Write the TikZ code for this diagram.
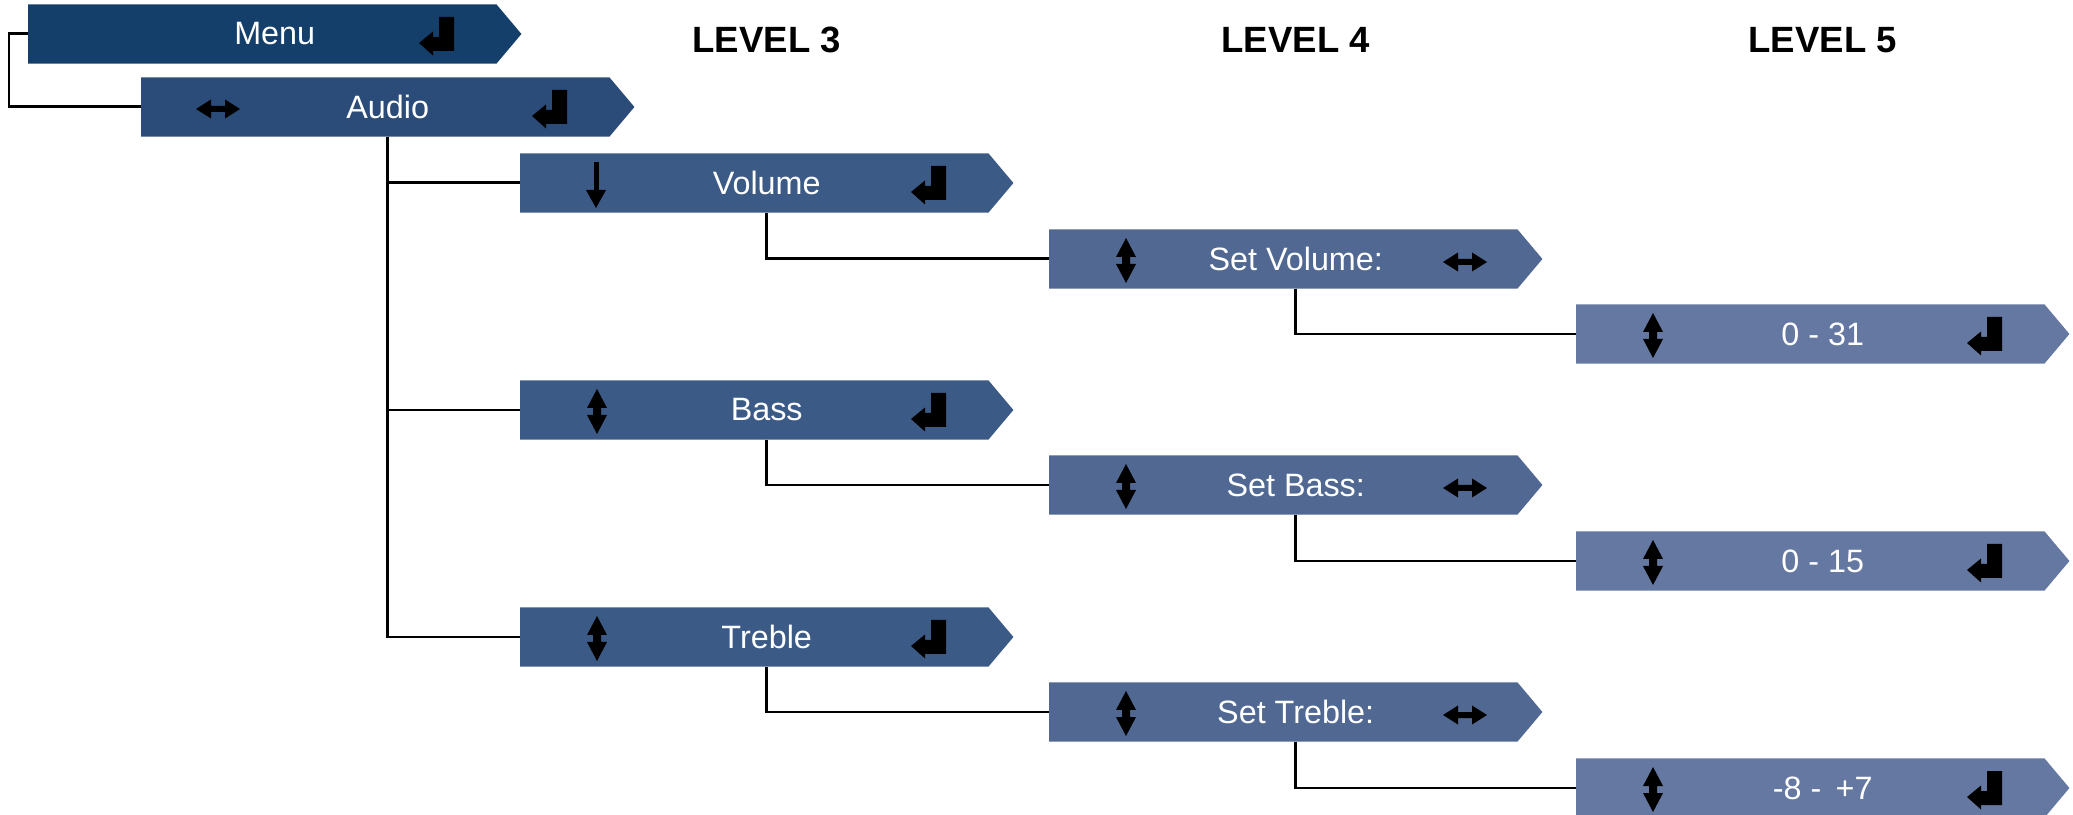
\documentclass[tikz,border=0pt]{standalone}
\usepackage{fontspec}
\setmainfont{Liberation Sans}
\usepackage{tikz}
\usetikzlibrary{positioning,calc,backgrounds}

\definecolor{lvA}{RGB}{20,63,107}
\definecolor{lvB}{RGB}{43,75,120}
\definecolor{lvC}{RGB}{60,90,134}
\definecolor{lvD}{RGB}{80,104,146}
\definecolor{lvE}{RGB}{100,120,161}

\tikzset{
    enter/.pic={\fill (0,-0.09) -- (0.14,0.025) -- (0.14,-0.03) -- (0.20,-0.03) -- (0.20,0.17) -- (0.35,0.17)
        -- (0.35,-0.17) -- (0.14,-0.17) -- (0.14,-0.215) -- cycle;},
    updown/.pic={\fill (0,0.225) -- (0.10,0.035) -- (0.04,0.035) -- (0.04,-0.035) -- (0.10,-0.035) -- (0,-0.225)
        -- (-0.10,-0.035) -- (-0.04,-0.035) -- (-0.04,0.035) -- (-0.10,0.035) -- cycle;},
    leftright/.pic={\fill (-0.22,0) -- (-0.07,0.095) -- (-0.07,0.03) -- (0.07,0.03) -- (0.07,0.095) -- (0.22,0)
        -- (0.07,-0.095) -- (0.07,-0.03) -- (-0.07,-0.03) -- (-0.07,-0.095) -- cycle;},
    downarrow/.pic={\fill (-0.025,0.21) rectangle (0.025,-0.07);
        \fill (-0.10,-0.07) -- (0.10,-0.07) -- (0,-0.25) -- cycle;}
}

\begin{document}
\begin{tikzpicture}[
    mbox/.style={rectangle, minimum width=4.92cm, minimum height=0.58cm, inner sep=0pt, anchor=west,
        text=white, font=\fontsize{9.2}{11}\selectfont},
    conn/.style={line width=0.85pt, black},
    lvl/.style={font=\bfseries\fontsize{10.4}{12}\selectfont}
]
\useasboundingbox (0,0) rectangle (20.73,-8.15);

% Level 1 and 2
\node[mbox] (menu) at (0.28,-0.34) {Menu};
\node[mbox] (audio) at (1.41,-1.07) {Audio};

% Level 3
\node[mbox] (volume) at (5.20,-1.83) {Volume};
\node[mbox] (bass) at (5.20,-4.10) {Bass};
\node[mbox] (treble) at (5.20,-6.37) {Treble};

% Level 4
\node[mbox] (setvol) at (10.49,-2.59) {Set Volume:};
\node[mbox] (setbass) at (10.49,-4.85) {Set Bass:};
\node[mbox] (settreble) at (10.49,-7.12) {Set Treble:};

% Level 5
\node[mbox] (vol31) at (15.76,-3.34) {0 - 31};
\node[mbox] (bass15) at (15.76,-5.61) {0 - 15};
\node[mbox] (treb7) at (15.76,-7.88) {-8 - \,+7};

% Headings
\node[lvl] (lev3) at (volume.center |- 0,-0.40) {LEVEL 3};
\node[lvl] (lev4) at (setvol.center |- 0,-0.40) {LEVEL 4};
\node[lvl] (lev5) at (vol31.center |- 0,-0.40) {LEVEL 5};

% Box shapes
\begin{scope}[on background layer]
\foreach \n/\c in {menu/lvA, audio/lvB, volume/lvC, bass/lvC, treble/lvC,
    setvol/lvD, setbass/lvD, settreble/lvD, vol31/lvE, bass15/lvE, treb7/lvE}
    \fill[\c] (\n.north west) -- ($(\n.north east)+(-0.25,0)$) -- (\n.east)
        -- ($(\n.south east)+(-0.25,0)$) -- (\n.south west) -- cycle;
\end{scope}

% Icons
\foreach \n in {menu, audio, volume, bass, treble, vol31, bass15, treb7}
    \pic at ($(\n.west)+(3.91,0)$) {enter};
\foreach \n in {bass, treble, setvol, setbass, settreble, vol31, bass15, treb7}
    \pic at ($(\n.west)+(0.77,-0.015)$) {updown};
\foreach \n in {setvol, setbass, settreble}
    \pic at ($(\n.west)+(4.16,-0.03)$) {leftright};
\pic at ($(audio.west)+(0.77,-0.02)$) {leftright};
\pic at ($(volume.west)+(0.76,0)$) {downarrow};

% Connectors
\draw[conn] (menu.west) -- ++(-0.19,0) |- (audio.west);
\foreach \n in {volume, bass, treble}
    \draw[conn] (audio.south) |- (\n.west);
\draw[conn] (volume.south) |- (setvol.west);
\draw[conn] (bass.south) |- (setbass.west);
\draw[conn] (treble.south) |- (settreble.west);
\draw[conn] (setvol.south) |- (vol31.west);
\draw[conn] (setbass.south) |- (bass15.west);
\draw[conn] (settreble.south) |- (treb7.west);

\end{tikzpicture}
\end{document}
